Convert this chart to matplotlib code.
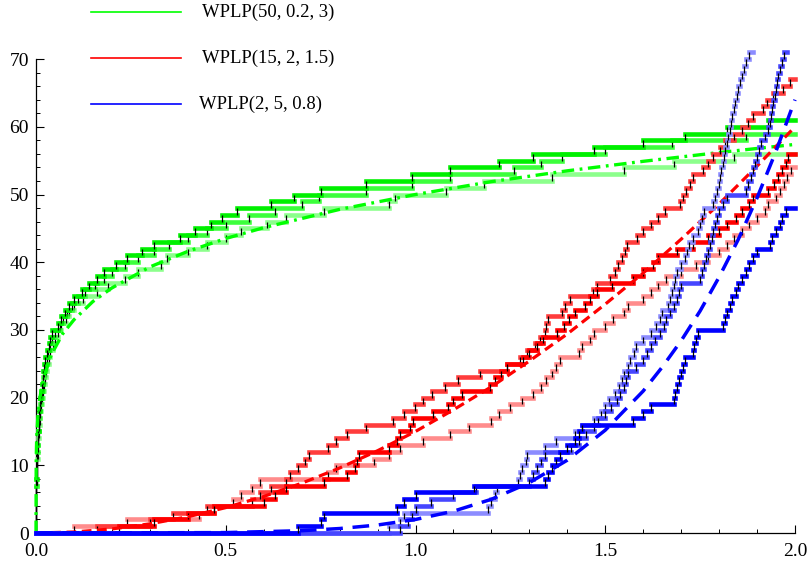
import matplotlib
matplotlib.use("Agg")
import matplotlib.pyplot as plt
from matplotlib.collections import LineCollection
from matplotlib.lines import Line2D
from matplotlib.ticker import FixedLocator

plt.rcParams['font.family'] = ['Liberation Serif', 'DejaVu Serif']
plt.rcParams['lines.scale_dashes'] = False

# ---------------- data ----------------
labels = ["WPLP(50, 0.2, 3)", "WPLP(15, 2, 1.5)", "WPLP(2, 5, 0.8)"]

# jump times of the sample paths (each jump = +1)
green_full_jumps = [0.00001, 0.00004, 0.0001, 0.0002, 0.0004, 0.0006, 0.0009, 0.0012, 0.0016, 0.002,
                    0.0026, 0.0032, 0.0039, 0.0047, 0.0056, 0.0066, 0.0077, 0.0089, 0.0102, 0.0118,
                    0.0135, 0.0152, 0.0172, 0.0195, 0.022, 0.025, 0.029, 0.033, 0.037, 0.042,
                    0.058, 0.066, 0.076, 0.087, 0.100, 0.120, 0.140, 0.160, 0.180, 0.210,
                    0.240, 0.280, 0.310, 0.380, 0.420, 0.460, 0.490, 0.530, 0.620, 0.680,
                    0.750, 0.870, 0.990, 1.090, 1.220, 1.310, 1.470, 1.600, 1.710, 1.820, 1.930]
green_mid_jumps = [0.00002, 0.00006, 0.00015, 0.0003, 0.0005, 0.0008, 0.0011, 0.0015, 0.0019, 0.0024,
                   0.003, 0.0037, 0.0045, 0.0054, 0.0064, 0.0075, 0.0088, 0.0102, 0.0117, 0.0134,
                   0.0153, 0.0174, 0.0197, 0.0222, 0.025, 0.028, 0.032, 0.036, 0.041, 0.050,
                   0.062, 0.072, 0.083, 0.095, 0.110, 0.130, 0.155, 0.180, 0.200, 0.235,
                   0.270, 0.310, 0.350, 0.400, 0.450, 0.500, 0.560, 0.630, 0.700, 0.746,
                   0.870, 0.990, 1.090, 1.260, 1.330, 1.385, 1.500, 1.676, 1.870]
green_light_jumps = [0.00003, 0.0001, 0.0002, 0.00035, 0.0006, 0.0009, 0.0013, 0.0017, 0.0022, 0.0028,
                     0.0035, 0.0043, 0.0052, 0.0062, 0.0074, 0.0087, 0.0101, 0.0117, 0.0135, 0.0155,
                     0.0178, 0.0203, 0.0231, 0.0262, 0.0297, 0.0335, 0.038, 0.044, 0.051, 0.059,
                     0.067, 0.078, 0.088, 0.100, 0.125, 0.160, 0.190, 0.235, 0.270, 0.330,
                     0.345, 0.400, 0.450, 0.500, 0.540, 0.610, 0.660, 0.760, 0.930, 0.946,
                     1.080, 1.180, 1.360, 1.550, 1.680, 1.840]

red_full_jumps = [0.22, 0.31, 0.40, 0.47, 0.60, 0.63, 0.66, 0.76, 0.82, 0.84,
                  0.845, 0.85, 0.93, 0.95, 0.96, 0.985, 0.994, 1.047, 1.085, 1.10,
                  1.122, 1.196, 1.21, 1.225, 1.24, 1.284, 1.30, 1.32, 1.337, 1.372,
                  1.39, 1.405, 1.42, 1.447, 1.46, 1.478, 1.517, 1.574, 1.60, 1.626,
                  1.639, 1.688, 1.732, 1.771, 1.80, 1.82, 1.845, 1.86, 1.88, 1.89,
                  1.93, 1.945, 1.955, 1.965, 1.975, 1.982]
red_mid_jumps = [0.16, 0.30, 0.36, 0.45, 0.57, 0.59, 0.62, 0.66, 0.67, 0.69,
                 0.71, 0.72, 0.77, 0.79, 0.82, 0.87, 0.941, 0.97, 0.999, 1.02,
                 1.043, 1.078, 1.113, 1.17, 1.24, 1.275, 1.293, 1.315, 1.328, 1.341,
                 1.345, 1.349, 1.385, 1.394, 1.407, 1.468, 1.478, 1.513, 1.525, 1.534,
                 1.545, 1.552, 1.557, 1.583, 1.60, 1.62, 1.639, 1.657, 1.697, 1.705,
                 1.714, 1.724, 1.732, 1.758, 1.771, 1.784, 1.802, 1.815, 1.84, 1.86,
                 1.875, 1.89, 1.916, 1.925, 1.943, 1.969, 1.987]
red_light_jumps = [0.10, 0.24, 0.43, 0.47, 0.52, 0.54, 0.57, 0.59, 0.77, 0.79,
                   0.89, 0.93, 0.96, 1.02, 1.09, 1.14, 1.20, 1.22, 1.25, 1.28,
                   1.31, 1.33, 1.345, 1.36, 1.37, 1.38, 1.43, 1.44, 1.46, 1.47,
                   1.50, 1.52, 1.55, 1.56, 1.60, 1.62, 1.64, 1.66, 1.70, 1.74,
                   1.77, 1.80, 1.82, 1.84, 1.86, 1.88, 1.90, 1.92, 1.93, 1.95,
                   1.96, 1.97, 1.98, 1.99]

blue_full_jumps = [0.69, 0.75, 0.76, 0.95, 0.97, 1.00, 1.155, 1.34, 1.35, 1.36,
                   1.37, 1.38, 1.40, 1.42, 1.43, 1.44, 1.574, 1.60, 1.62, 1.68,
                   1.685, 1.69, 1.695, 1.70, 1.705, 1.71, 1.73, 1.735, 1.74, 1.745,
                   1.81, 1.815, 1.82, 1.83, 1.835, 1.845, 1.85, 1.86, 1.87, 1.88,
                   1.89, 1.90, 1.935, 1.94, 1.95, 1.96, 1.965, 1.975]
blue_mid_jumps = [0.96, 0.98, 0.99, 1.00, 1.04, 1.10, 1.16, 1.30, 1.31, 1.32,
                  1.33, 1.34, 1.41, 1.43, 1.45, 1.47, 1.48, 1.50, 1.515, 1.53,
                  1.54, 1.55, 1.555, 1.56, 1.58, 1.60, 1.61, 1.62, 1.63, 1.645,
                  1.655, 1.66, 1.67, 1.68, 1.69, 1.695, 1.70, 1.75, 1.755, 1.76,
                  1.765, 1.77, 1.775, 1.78, 1.785, 1.79, 1.795, 1.80, 1.81, 1.82,
                  1.87, 1.875, 1.885, 1.89, 1.895, 1.90, 1.905, 1.91, 1.92, 1.93,
                  1.933, 1.937, 1.94, 1.943, 1.946, 1.949, 1.952, 1.955, 1.96, 1.965,
                  1.97, 1.98]
blue_light_jumps = [0.93, 0.96, 0.97, 1.19, 1.20, 1.21, 1.215, 1.27, 1.275, 1.28,
                    1.29, 1.295, 1.34, 1.37, 1.42, 1.44, 1.47, 1.49, 1.50, 1.51,
                    1.525, 1.535, 1.545, 1.55, 1.56, 1.565, 1.575, 1.58, 1.60, 1.62,
                    1.635, 1.645, 1.65, 1.665, 1.67, 1.675, 1.68, 1.685, 1.69, 1.70,
                    1.71, 1.715, 1.72, 1.73, 1.745, 1.75, 1.755, 1.76, 1.785, 1.79,
                    1.795, 1.80, 1.803, 1.806, 1.809, 1.812, 1.816, 1.82, 1.824, 1.828,
                    1.832, 1.835, 1.838, 1.842, 1.846, 1.85, 1.855, 1.86, 1.865, 1.87,
                    1.88, 1.89]

# mean curves
green_mean_t = [0, 0.0005, 0.002, 0.005, 0.01, 0.02, 0.04, 0.07, 0.1, 0.15, 0.2, 0.3, 0.4, 0.5,
                0.6, 0.8, 1.0, 1.2, 1.4, 1.6, 1.8, 2.0]
green_mean_y = [0, 10.9, 14.4, 17.3, 19.9, 22.9, 26.3, 29.4, 31.5, 34.2, 36.2, 39.3, 41.6, 43.5,
                45.1, 47.8, 50.0, 51.9, 53.5, 54.9, 56.2, 57.4]
red_mean_t = [0, 0.1, 0.2, 0.3, 0.4, 0.5, 0.6, 0.7, 0.8, 0.9, 1.0, 1.1, 1.2, 1.3, 1.4, 1.5,
              1.6, 1.7, 1.8, 1.9, 2.0]
red_mean_y = [0, 0.15, 0.6, 1.35, 2.4, 3.75, 5.4, 7.35, 9.6, 12.15, 15.0, 18.2, 21.6, 25.4, 29.4,
              33.8, 38.4, 43.4, 48.6, 54.2, 60.0]
blue_mean_t = [0, 0.5, 0.7, 0.8, 0.9, 1.0, 1.1, 1.2, 1.3, 1.4, 1.5, 1.6, 1.65, 1.7, 1.75, 1.8,
               1.85, 1.9, 1.95, 2.0]
blue_mean_y = [0, 0.06, 0.34, 0.66, 1.18, 2.0, 3.22, 4.98, 7.43, 10.76, 15.19, 20.97, 24.5, 28.4,
               32.8, 37.8, 43.3, 49.5, 56.4, 64.0]

# ---------------- styles ----------------
green_cols = ['#00f000', '#3cff3c', '#8cff8c']
red_cols = ['#ff0000', '#ff3c3c', '#ff8c8c']
blue_cols = ['#0000ff', '#4646ff', '#8c8cff']
legend_cols = ['#00ff00', '#ff0000', '#0000ff']

T_END = 2.0
TOP_LEVEL = 71

fig = plt.figure(figsize=(8.09, 5.65), dpi=100)
# axes placed so that x=0 -> px 36, x=2 -> px 795, y=0 -> py 533, y=70 -> py 59
x_lo, x_hi = -0.01, 2.01
y_lo, y_hi = -1.0, 71.6
pxx = 379.5
pxy = 6.77
left = (36 + x_lo * pxx) / 809
width = (x_hi - x_lo) * pxx / 809
bottom = (565 - 533 + y_lo * pxy) / 565
height = (y_hi - y_lo) * pxy / 565
ax = fig.add_axes([left, bottom, width, height])
ax.set_xlim(x_lo, x_hi)
ax.set_ylim(y_lo, y_hi)


def draw_path(jumps, color, z):
    times = [0.0] + list(jumps) + [T_END]
    segs = []
    for k in range(len(times) - 1):
        if k <= TOP_LEVEL:
            segs.append([(times[k], k), (times[k + 1], k)])
    lc = LineCollection(segs, colors=color, linewidths=3.3, capstyle='projecting',
                        zorder=z, clip_on=False)
    ax.add_collection(lc)
    ticks = []
    for k, tj in enumerate(jumps, start=1):
        if k <= TOP_LEVEL:
            ticks.append([(tj, k - 1), (tj, k)])
    tc = LineCollection(ticks, colors='black', linewidths=0.9, zorder=z + 0.5, clip_on=False)
    ax.add_collection(tc)


z = 2
for jumps, col in zip([green_light_jumps, green_mid_jumps, green_full_jumps], green_cols[::-1]):
    draw_path(jumps, col, z)
    z += 1
ax.plot(green_mean_t, green_mean_y, color='#00ff00', lw=2.4, dashes=(9, 4, 2, 4), zorder=z)
z += 1
for jumps, col in zip([red_light_jumps, red_mid_jumps, red_full_jumps], red_cols[::-1]):
    draw_path(jumps, col, z)
    z += 1
ax.plot(red_mean_t, red_mean_y, color='#ff0000', lw=2.3, dashes=(7, 4), zorder=z)
z += 1
for jumps, col in zip([blue_light_jumps, blue_mid_jumps, blue_full_jumps], blue_cols[::-1]):
    draw_path(jumps, col, z)
    z += 1
ax.plot(blue_mean_t, blue_mean_y, color='#0000ff', lw=2.5, dashes=(12, 7), zorder=z)

# ---------------- axes styling ----------------
for s in ['top', 'right']:
    ax.spines[s].set_visible(False)
ax.spines['left'].set_position(('data', 0))
ax.spines['bottom'].set_position(('data', 0))
ax.spines['left'].set_bounds(0, 70)
ax.spines['bottom'].set_bounds(0, 2)
for s in ['left', 'bottom']:
    ax.spines[s].set_linewidth(0.9)
    ax.spines[s].set_zorder(1)

ax.xaxis.set_major_locator(FixedLocator([0, 0.5, 1.0, 1.5, 2.0]))
ax.xaxis.set_minor_locator(FixedLocator([i / 10 for i in range(21) if i % 5 != 0]))
ax.set_xticklabels(['0.0', '0.5', '1.0', '1.5', '2.0'])
ax.yaxis.set_major_locator(FixedLocator(list(range(0, 71, 10))))
ax.yaxis.set_minor_locator(FixedLocator([v for v in range(0, 71, 2) if v % 10 != 0]))
ax.tick_params(which='major', direction='in', length=6, width=0.8, labelsize=14)
ax.tick_params(axis='x', which='major', pad=7)
ax.tick_params(axis='y', which='major', pad=5)
ax.tick_params(which='minor', direction='in', length=3, width=0.7)

# ---------------- legend ----------------
leg_y = [12, 58, 104]
leg_text_x = [202, 202, 199]
for yy, col, lab, tx in zip(leg_y, legend_cols, labels, leg_text_x):
    fy = 1 - yy / 565
    fig.add_artist(Line2D([91 / 809, 181 / 809], [fy, fy], color=col, lw=1.2,
                          transform=fig.transFigure))
    fig.text(tx / 809, fy, lab, fontsize=13.4, va='center', ha='left')

fig.savefig('out.png', dpi=100)
